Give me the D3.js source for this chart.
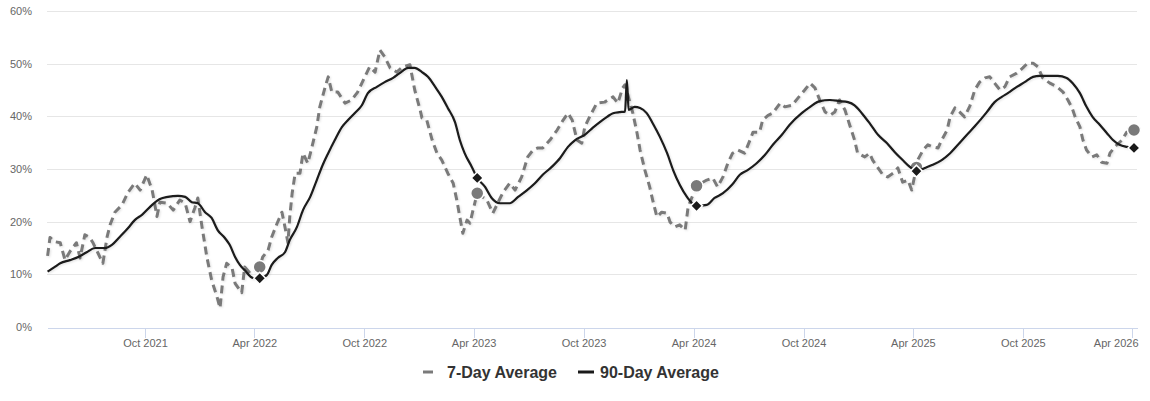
<!DOCTYPE html>
<html>
<head>
<meta charset="utf-8">
<script src="https://cdn.jsdelivr.net/npm/d3@7/dist/d3.min.js"></script>
<style>
  html, body { margin: 0; padding: 0; background: #fff; }
  svg { display: block; font-family: "Liberation Sans", Arial, Helvetica, sans-serif; }
</style>
</head>
<body>
<svg id="chart" width="1150" height="401"></svg>
<script>
// ---------- DATA ----------
const seriesNames = ["7-Day Average", "90-Day Average"];

const yTicks = [0, 10, 20, 30, 40, 50, 60];
const xTickDates = ["2021-10-01","2022-04-01","2022-10-01","2023-04-01","2023-10-01",
                    "2024-04-01","2024-10-01","2025-04-01","2025-10-01","2026-04-01"];
const xDomain = ["2021-04-21", "2026-04-09"];

// 7-day average (%)
const sevenDay = [
["2021-04-22",13.5],["2021-04-26",17],["2021-05-04",16.2],["2021-05-13",16],["2021-05-21",12.7],
["2021-05-29",14.3],["2021-06-09",16],["2021-06-15",13.1],["2021-06-23",17.5],["2021-07-01",17],
["2021-07-06",16.1],["2021-07-15",14],["2021-07-23",12.1],["2021-07-30",17.1],["2021-08-04",19.4],
["2021-08-12",21.8],["2021-08-24",23.2],["2021-09-03",25.6],["2021-09-14",27.3],["2021-09-23",26],
["2021-10-04",28.9],["2021-10-13",26],["2021-10-21",21],["2021-10-26",23.7],["2021-11-07",23.5],
["2021-11-17",22.2],["2021-11-28",24.1],["2021-12-07",23.5],["2021-12-15",20],["2021-12-23",22.6],
["2021-12-28",24.5],["2022-01-04",19],["2022-01-12",13.3],["2022-01-20",8.9],["2022-01-29",5.7],
["2022-02-03",3.6],["2022-02-08",9.5],["2022-02-14",12.1],["2022-02-23",11.2],["2022-02-28",8.3],
["2022-03-11",6.5],["2022-03-16",11.4],["2022-03-25",10.2],["2022-04-10",11.4],["2022-04-15",13.3],
["2022-04-24",14.6],["2022-04-30",17.1],["2022-05-09",19.7],["2022-05-17",21.8],["2022-05-22",19],
["2022-05-27",16],["2022-05-30",20.9],["2022-06-03",25.4],["2022-06-08",29.2],["2022-06-16",29.2],
["2022-06-21",33],["2022-06-29",31.1],["2022-07-06",34.2],["2022-07-14",38],["2022-07-19",41.8],
["2022-07-28",45.6],["2022-08-02",47.5],["2022-08-08",44.6],["2022-08-18",44.6],["2022-08-30",42.5],
["2022-09-10",43.1],["2022-09-20",44.6],["2022-10-02",47.5],["2022-10-10",49.4],["2022-10-19",48.4],
["2022-10-27",52.6],["2022-11-04",51.3],["2022-11-13",49.2],["2022-11-24",48.4],["2022-12-04",49.4],
["2022-12-16",49.8],["2022-12-24",45],["2023-01-02",41.2],["2023-01-05",39.7],["2023-01-13",39.3],
["2023-01-22",35.5],["2023-01-30",33],["2023-02-07",31.7],["2023-02-17",29.2],["2023-02-26",27.3],
["2023-03-04",24.1],["2023-03-09",20.9],["2023-03-14",17.8],["2023-03-21",20.3],["2023-03-26",19.7],
["2023-03-31",22.2],["2023-04-07",25.4],["2023-04-23",24.1],["2023-05-03",21.6],["2023-05-11",23.5],
["2023-05-20",25.6],["2023-05-31",27.3],["2023-06-09",26],["2023-06-20",28.5],["2023-06-30",32.3],
["2023-07-09",33.6],["2023-07-17",34],["2023-07-25",34],["2023-08-06",35.5],["2023-08-18",37.4],
["2023-08-28",39.3],["2023-09-05",40.6],["2023-09-12",39.3],["2023-09-20",35.5],["2023-09-28",34.9],
["2023-10-03",38],["2023-10-11",39.9],["2023-10-23",42.5],["2023-11-05",42.7],["2023-11-19",43.7],
["2023-11-27",42.5],["2023-12-05",45.4],["2023-12-09",46],["2023-12-22",40.6],["2023-12-29",36.8],
["2024-01-03",33.6],["2024-01-11",29.8],["2024-01-19",26.6],["2024-01-24",24.1],["2024-01-31",20.9],
["2024-02-08",21.8],["2024-02-17",21.6],["2024-02-22",19.9],["2024-03-01",19],["2024-03-09",19.4],
["2024-03-18",18.4],["2024-03-23",22.8],["2024-04-06",26.8],["2024-04-23",27.9],["2024-05-03",28.3],
["2024-05-11",26.6],["2024-05-20",28.5],["2024-05-28",31.1],["2024-06-05",33],["2024-06-14",33.6],
["2024-06-25",33],["2024-07-04",35.5],["2024-07-09",37],["2024-07-20",37],["2024-07-25",39.3],
["2024-08-03",40.2],["2024-08-11",40.6],["2024-08-23",42.5],["2024-08-31",41.8],["2024-09-12",42.1],
["2024-09-22",43.5],["2024-10-03",45],["2024-10-12",46.3],["2024-10-20",45.4],["2024-10-28",43.1],
["2024-11-06",40.8],["2024-11-14",40.2],["2024-11-22",40.8],["2024-11-30",43.1],["2024-12-09",41.2],
["2024-12-17",38.3],["2024-12-25",35.5],["2024-12-30",33],["2025-01-11",32.3],["2025-01-19",33],
["2025-01-24",31.7],["2025-02-02",30.2],["2025-02-10",28.9],["2025-02-18",28.5],["2025-02-27",29.2],
["2025-03-07",30.2],["2025-03-15",27.5],["2025-03-24",27.9],["2025-03-30",26],["2025-04-07",30.3],
["2025-04-09",31.7],["2025-04-18",33.6],["2025-04-26",34.6],["2025-05-04",34.2],["2025-05-13",34],
["2025-05-19",35.5],["2025-05-28",37.4],["2025-06-02",39.9],["2025-06-10",41.6],["2025-06-18",40.8],
["2025-06-26",39.9],["2025-07-05",42],["2025-07-13",45],["2025-07-21",46.5],["2025-07-30",47.3],
["2025-08-07",47.5],["2025-08-15",46.3],["2025-08-24",45],["2025-09-01",45.6],["2025-09-09",47.5],
["2025-09-21",48.2],["2025-10-01",49.2],["2025-10-09",50.1],["2025-10-18",50.1],["2025-10-26",49.4],
["2025-11-03",47.3],["2025-11-15",46.3],["2025-11-27",45.6],["2025-12-07",44.6],["2025-12-15",43.1],
["2025-12-22",41.6],["2025-12-27",39.9],["2026-01-04",38],["2026-01-09",35.5],["2026-01-15",33.6],
["2026-01-24",32.3],["2026-02-01",32.7],["2026-02-09",31.3],["2026-02-18",31.1],["2026-02-23",33],
["2026-03-03",34.2],["2026-03-15",35.5],["2026-03-23",37],["2026-04-04",37.4]
];

// 90-day average (%)
const ninetyDay = [
["2021-04-22",10.5],["2021-05-04",11.4],["2021-05-13",12.1],["2021-05-29",12.7],["2021-06-12",13.3],
["2021-06-26",14.2],["2021-07-10",15],["2021-07-26",15],["2021-08-07",15.6],["2021-08-20",17.1],
["2021-09-03",18.8],["2021-09-14",20.3],["2021-09-26",21.3],["2021-10-13",23.2],["2021-10-26",24.3],
["2021-11-08",24.7],["2021-11-25",24.9],["2021-12-07",24.7],["2021-12-18",23.7],["2021-12-28",23.5],
["2022-01-09",21.8],["2022-01-20",20.7],["2022-01-30",18.4],["2022-02-11",16.9],["2022-02-19",15.6],
["2022-02-28",13.3],["2022-03-08",11.8],["2022-03-16",10.8],["2022-03-30",9.3],["2022-04-10",9.25],
["2022-04-22",9.9],["2022-04-30",11.8],["2022-05-10",13.1],["2022-05-22",14.2],["2022-05-30",16.5],
["2022-06-11",19],["2022-06-21",22.2],["2022-07-03",24.7],["2022-07-14",27.9],["2022-07-24",30.8],
["2022-08-02",33],["2022-08-13",35.5],["2022-08-25",38],["2022-09-04",39.3],["2022-09-15",40.6],
["2022-09-27",42.1],["2022-10-07",44.4],["2022-10-22",45.6],["2022-11-04",46.5],["2022-11-18",47.3],
["2022-11-29",48.2],["2022-12-13",49.2],["2022-12-24",49.2],["2023-01-05",48.4],["2023-01-15",47.5],
["2023-01-27",45.6],["2023-02-07",43.7],["2023-02-17",41.6],["2023-03-01",38.9],["2023-03-09",35.5],
["2023-03-17",33],["2023-03-29",30.4],["2023-04-07",28.3],["2023-04-20",26.6],["2023-05-01",24.5],
["2023-05-15",23.5],["2023-05-31",23.5],["2023-06-14",24.7],["2023-06-29",26],["2023-07-12",27.3],
["2023-07-25",28.9],["2023-08-09",30.4],["2023-08-23",32.1],["2023-09-05",34.2],["2023-09-17",35.5],
["2023-10-03",36.5],["2023-10-16",37.8],["2023-10-28",38.9],["2023-11-09",39.9],["2023-11-19",40.6],
["2023-11-30",40.8],["2023-12-09",40.9],["2023-12-12",46.9],["2023-12-15",41.2],["2023-12-25",41.8],
["2024-01-03",41.6],["2024-01-14",40.6],["2024-01-24",38.7],["2024-02-05",36.1],["2024-02-17",33],
["2024-02-27",29.8],["2024-03-09",27],["2024-03-21",24.7],["2024-04-06",23],["2024-04-23",23.2],
["2024-05-06",24.5],["2024-05-20",25.4],["2024-06-04",27],["2024-06-17",28.9],["2024-06-30",29.8],
["2024-07-15",31.1],["2024-07-29",32.7],["2024-08-11",34.6],["2024-08-26",36.5],["2024-09-08",38.4],
["2024-09-28",40.6],["2024-10-12",41.8],["2024-10-28",42.9],["2024-11-14",43.1],["2024-11-30",42.9],
["2024-12-14",42.7],["2024-12-25",42.1],["2025-01-06",40.6],["2025-01-19",38.7],["2025-02-02",36.5],
["2025-02-17",34.9],["2025-03-02",33.2],["2025-03-15",31.7],["2025-03-27",30.4],["2025-04-07",29.6],
["2025-04-21",30.2],["2025-05-04",30.8],["2025-05-19",31.7],["2025-06-02",33],["2025-06-15",34.6],
["2025-06-30",36.5],["2025-07-13",38.1],["2025-08-02",40.8],["2025-08-15",42.7],["2025-08-27",43.7],
["2025-09-06",44.4],["2025-09-21",45.6],["2025-10-04",46.5],["2025-10-18",47.5],["2025-10-29",47.7],
["2025-11-15",47.7],["2025-11-28",47.7],["2025-12-13",47.3],["2025-12-23",46.3],["2026-01-04",44.4],
["2026-01-15",41.8],["2026-01-25",39.9],["2026-02-06",38.4],["2026-02-18",36.8],["2026-02-28",35.5],
["2026-03-11",34.6],["2026-03-23",34.2],["2026-04-04",34]
];

// Highlighted same-date markers each year
const markerDates = ["2022-04-10","2023-04-07","2024-04-06","2025-04-07","2026-04-04"];
const sevenDayMarkers = [11.4, 25.4, 26.8, 30.3, 37.4];
const ninetyDayMarkers = [9.25, 28.3, 23, 29.6, 34];

// ---------- CHART ----------
const parse = d3.timeParse("%Y-%m-%d");
const fmt = d3.timeFormat("%b %Y");
const svg = d3.select("#chart");
const mLeft = 47, mRight = 1137, mTop = 11, mBottom = 327;

const x = d3.scaleTime().domain(xDomain.map(parse)).range([mLeft, mRight]);
const y = d3.scaleLinear().domain([0, 60]).range([mBottom, mTop]);

const defs = svg.append("defs");
const f = defs.append("filter").attr("id", "shadow").attr("x", "-5%").attr("y", "-5%").attr("width", "110%").attr("height", "120%");
f.append("feDropShadow").attr("dx", 1).attr("dy", 1).attr("stdDeviation", 1).attr("flood-color", "#000").attr("flood-opacity", 0.12);

// grid
const yAxis = d3.axisLeft(y).tickValues(yTicks).tickSize(-(mRight - mLeft)).tickFormat(d => d + "%").tickPadding(15);
const gy = svg.append("g").attr("transform", `translate(${mLeft},0)`).call(yAxis);
gy.select(".domain").remove();
gy.selectAll(".tick line").attr("stroke", "#e6e6e6").attr("shape-rendering", "crispEdges");
gy.selectAll(".tick text").attr("fill", "#666").attr("font-size", "11px")
  .attr("font-family", "Liberation Sans, Arial, sans-serif");
gy.selectAll(".tick").filter(d => d === 0).select("line").remove();

// x axis
const xAxis = d3.axisBottom(x).tickValues(xTickDates.map(parse)).tickSize(10).tickSizeOuter(0).tickFormat(fmt).tickPadding(2);
const gx = svg.append("g").attr("transform", `translate(0,${mBottom + 0.5})`).call(xAxis);
gx.select(".domain").attr("stroke", "#ccd6eb").attr("shape-rendering", "crispEdges");
gx.selectAll(".tick line").attr("stroke", "#ccd6eb").attr("shape-rendering", "crispEdges");
gx.selectAll(".tick text").attr("fill", "#666").attr("font-size", "11px")
  .attr("font-family", "Liberation Sans, Arial, sans-serif");
// keep the last label inside the plot's right edge
gx.selectAll(".tick text").filter((d, i, n) => i === n.length - 1)
  .attr("text-anchor", "end").attr("x", mRight + 1 - x(parse(xTickDates[xTickDates.length - 1])));

// lines
const line7 = d3.line().x(d => x(parse(d[0]))).y(d => y(d[1])).curve(d3.curveLinear);
const line90 = d3.line().x(d => x(parse(d[0]))).y(d => y(d[1])).curve(d3.curveMonotoneX);

svg.append("path").datum(sevenDay).attr("d", line7)
  .attr("fill", "none").attr("stroke", "#7a7a7a").attr("stroke-width", 3)
  .attr("stroke-dasharray", "8,5").attr("stroke-linejoin", "round").attr("filter", "url(#shadow)");

svg.selectAll("circle.m7").data(markerDates.map((d, i) => [d, sevenDayMarkers[i]])).enter()
  .append("circle").attr("class", "m7")
  .attr("cx", d => x(parse(d[0]))).attr("cy", d => y(d[1])).attr("r", 6.5)
  .attr("fill", "#7a7a7a").attr("stroke", "#fff").attr("stroke-width", 1.5);

svg.append("path").datum(ninetyDay).attr("d", line90)
  .attr("fill", "none").attr("stroke", "#1a1a1a").attr("stroke-width", 2.2)
  .attr("stroke-linejoin", "round").attr("filter", "url(#shadow)");

const diamond = d3.symbol().type(d3.symbolDiamond2).size(90);
svg.selectAll("path.m90").data(markerDates.map((d, i) => [d, ninetyDayMarkers[i]])).enter()
  .append("path").attr("class", "m90")
  .attr("d", diamond)
  .attr("transform", d => `translate(${x(parse(d[0]))},${y(d[1])})`)
  .attr("fill", "#1a1a1a").attr("stroke", "#fff").attr("stroke-width", 1.5);

// legend
const legend = svg.append("g").attr("font-family", "Liberation Sans, Arial, sans-serif");
const lg1 = legend.append("g").attr("transform", "translate(423,372)");
lg1.append("line").attr("x1", 0).attr("x2", 16).attr("y1", 0).attr("y2", 0)
  .attr("stroke", "#7a7a7a").attr("stroke-width", 3).attr("stroke-dasharray", "10,6");
lg1.append("text").attr("x", 24).attr("y", 6).attr("font-size", "16px").attr("font-weight", "bold")
  .attr("fill", "#333").text(seriesNames[0]);
const lg2 = legend.append("g").attr("transform", "translate(578,372)");
lg2.append("line").attr("x1", 0).attr("x2", 16).attr("y1", 0).attr("y2", 0)
  .attr("stroke", "#1a1a1a").attr("stroke-width", 3);
lg2.append("text").attr("x", 22).attr("y", 6).attr("font-size", "16px").attr("font-weight", "bold")
  .attr("fill", "#333").text(seriesNames[1]);
</script>
</body>
</html>
